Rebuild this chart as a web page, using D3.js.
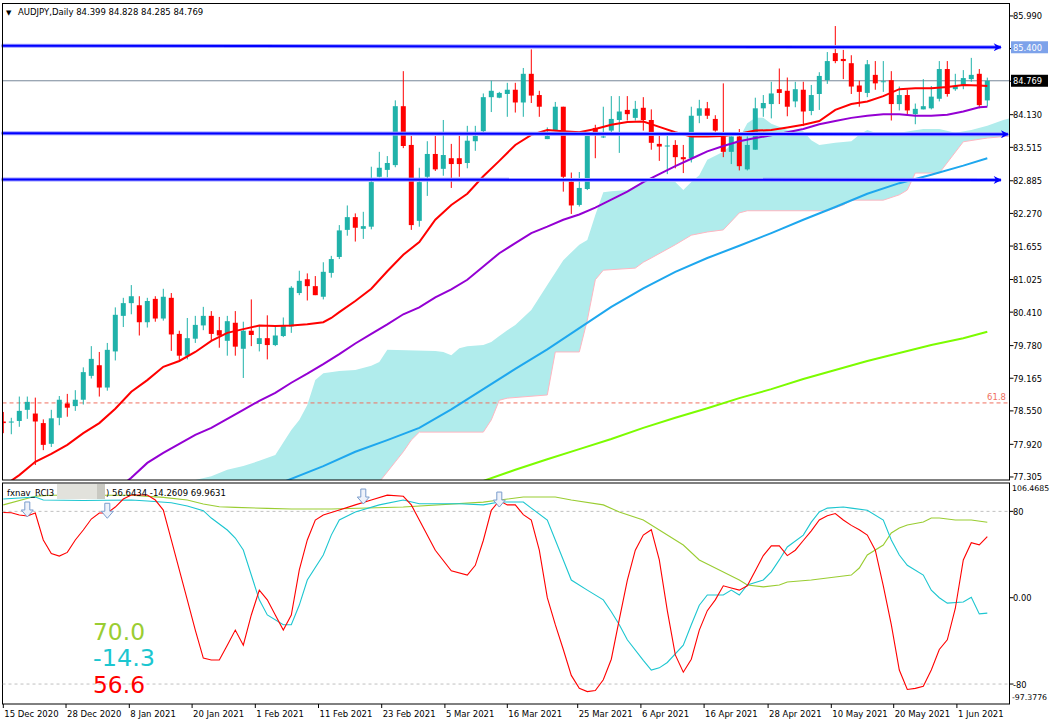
<!DOCTYPE html>
<html>
<head>
<meta charset="utf-8">
<script src="https://cdn.jsdelivr.net/npm/d3@7"></script>
<style>
  body { margin: 0; background: #fff; }
  svg text { font-family: "DejaVu Sans", sans-serif; }
</style>
</head>
<body>
<div id="graf"></div>
<script>
// OHLC, one value per daily bar (index 0 = 15 Dec 2020)
const opens = [78.35,78.33,78.36,78.57,78.50,78.32,77.93,78.42,78.69,78.64,78.76,79.21,79.41,78.99,79.67,80.34,80.58,80.54,80.22,80.66,
  80.29,80.68,80.00,79.59,79.91,80.16,80.34,80.07,79.87,80.21,79.72,80.06,79.81,79.92,79.79,79.96,80.14,80.77,81.03,80.90,
  80.70,81.15,81.45,81.96,82.20,81.98,82.02,82.96,83.09,83.18,84.29,83.56,82.13,82.96,83.39,83.11,83.31,83.31,83.22,83.63,
  83.82,84.46,84.45,84.52,84.60,84.36,84.90,84.50,83.67,83.83,84.28,82.87,82.43,82.73,83.88,83.71,83.83,84.03,84.22,84.07,
  84.26,84.03,83.58,83.53,83.56,83.33,83.31,84.11,84.25,84.05,83.72,83.43,83.72,83.10,83.47,84.25,84.33,84.61,84.58,84.38,
  84.60,84.20,84.52,84.78,85.29,85.18,85.10,84.68,84.54,84.88,84.75,84.78,84.33,84.50,84.14,84.23,84.25,84.43,84.99,84.61,
  84.67,84.80,84.90,84.399]
const highs = [78.53,78.42,78.82,78.82,78.80,78.39,78.57,78.83,78.87,78.94,79.37,79.77,79.66,79.83,80.50,80.68,80.92,80.71,80.68,80.71,
  80.85,80.77,80.06,80.30,80.34,80.51,80.43,80.32,80.34,80.43,80.23,80.65,80.17,80.35,80.14,80.31,80.90,81.19,81.14,81.09,
  81.35,81.47,82.05,82.42,82.27,82.30,83.15,83.43,83.35,84.40,84.95,83.73,83.13,83.63,83.73,84.03,83.58,83.73,83.92,83.92,
  84.53,84.77,84.56,84.73,84.73,85.01,85.36,84.58,83.89,84.37,84.28,83.04,83.05,83.73,83.94,84.28,84.48,84.48,84.48,84.39,
  84.46,84.23,83.73,83.73,83.65,83.56,84.28,84.41,84.37,84.12,84.72,83.72,83.86,83.72,84.45,84.50,84.75,85.00,84.83,84.75,
  84.75,84.69,84.93,85.31,85.80,85.35,85.25,84.77,85.16,85.14,85.14,84.95,84.66,84.60,84.34,84.80,84.67,85.14,85.14,84.90,
  84.97,85.20,84.99,84.828]
const lows = [78.13,78.11,78.25,78.40,77.53,77.81,77.87,78.28,78.44,78.55,78.67,79.16,78.82,78.93,79.50,80.13,80.37,79.97,80.12,80.23,
  80.25,79.68,79.51,79.52,79.83,80.07,79.87,79.74,79.59,79.59,79.17,79.77,79.67,79.52,79.77,79.94,80.02,80.73,80.63,80.73,
  80.65,81.06,81.41,81.85,81.74,81.79,81.97,82.95,82.95,83.14,83.50,81.96,82.02,82.60,83.07,82.98,82.75,82.96,83.12,83.45,
  83.80,84.18,84.44,84.09,84.17,84.09,84.35,84.09,83.67,83.82,82.68,82.26,82.40,82.71,83.31,83.69,83.75,83.41,84.02,84.02,
  83.83,83.47,83.26,83.01,83.12,83.03,83.23,83.97,84.05,83.81,83.33,83.20,83.08,83.08,83.47,84.09,84.06,84.33,84.10,84.27,
  83.92,84.12,84.22,84.71,85.10,84.80,84.52,84.28,84.46,84.60,84.56,84.02,84.21,84.14,83.95,84.23,84.23,84.38,84.47,84.58,
  84.61,84.75,84.25,84.285]
const closes = [78.32,78.35,78.55,78.72,78.35,77.91,78.41,78.76,78.61,78.76,79.28,79.53,78.99,79.70,80.36,80.58,80.71,80.22,80.62,80.29,
  80.70,79.99,79.59,79.92,80.17,80.34,80.00,79.97,80.24,79.76,80.06,79.98,79.92,79.79,79.97,80.16,80.87,81.00,80.90,80.73,
  81.17,81.41,81.95,82.20,82.00,82.03,82.86,83.13,83.22,84.29,83.54,82.05,82.86,83.39,83.10,83.37,83.20,83.20,83.64,83.73,
  84.46,84.58,84.54,84.60,84.36,84.90,84.49,84.28,83.73,84.28,82.96,82.42,82.75,83.73,83.80,83.72,84.05,84.19,84.14,84.24,
  84.03,83.60,83.53,83.55,83.33,83.29,84.11,84.25,84.11,83.83,83.43,83.72,83.16,83.56,84.25,84.35,84.53,84.54,84.28,84.61,
  84.19,84.50,84.86,85.14,85.14,85.14,84.66,84.56,85.08,84.72,84.76,84.33,84.50,84.21,84.24,84.29,84.47,84.99,84.52,84.67,
  84.82,84.88,84.31,84.769]

// moving averages: [bar index, price]
const maRed = [[0,77.13],[2,77.34],[4,77.59],[6,77.74],[8,77.91],[10,78.13],[12,78.32],[14,78.59],[16,78.91],[18,79.13],[20,79.38],
  [22,79.49],[24,79.66],[26,79.87],[28,80.02],[30,80.09],[32,80.16],[34,80.15],[36,80.16],[38,80.18],[40,80.22],[41,80.30],[42,80.41],
  [44,80.62],[46,80.85],[48,81.18],[50,81.49],[52,81.73],[54,82.15],[56,82.43],[58,82.64],[60,82.97],[62,83.26],[64,83.56],[66,83.75],
  [68,83.84],[70,83.82],[72,83.80],[74,83.86],[76,83.94],[78,83.99],[80,84.00],[82,83.90],[84,83.80],[86,83.72],[88,83.72],[90,83.73],
  [92,83.77],[94,83.83],[96,83.84],[98,83.89],[100,83.94],[102,84.01],[104,84.22],[106,84.33],[108,84.38],[110,84.48],[112,84.61],
  [114,84.63],[116,84.63],[118,84.65],[120,84.69],[122,84.68],[123,84.67]]
const maPurple = [[15,77.17],[16,77.29],[18,77.57],[20,77.76],[22,77.93],[24,78.10],[26,78.23],[28,78.40],[30,78.57],[32,78.74],
  [34,78.89],[36,79.08],[38,79.25],[40,79.43],[42,79.62],[44,79.82],[46,80.00],[48,80.18],[50,80.37],[52,80.50],[54,80.69],[56,80.84],
  [58,81.02],[60,81.27],[62,81.52],[64,81.71],[66,81.90],[68,82.02],[70,82.15],[72,82.25],[74,82.38],[76,82.53],[78,82.68],[80,82.86],
  [82,83.01],[84,83.16],[86,83.30],[88,83.44],[90,83.54],[92,83.63],[94,83.69],[96,83.74],[98,83.80],[100,83.86],[102,83.95],
  [104,84.01],[106,84.07],[108,84.11],[110,84.14],[112,84.14],[114,84.11],[116,84.11],[118,84.13],[120,84.19],[122,84.27],[123,84.28]]
const maBlue = [[35,77.21],[40,77.51],[44,77.78],[48,78.00],[52,78.23],[56,78.58],[60,78.96],[64,79.34],[68,79.71],[72,80.11],
  [76,80.51],[80,80.86],[84,81.17],[88,81.43],[92,81.66],[96,81.90],[100,82.15],[104,82.39],[108,82.64],[112,82.84],[116,83.00],
  [120,83.17],[123,83.31]]
const maGreen = [[60,77.23],[64,77.44],[68,77.64],[72,77.83],[76,78.02],[80,78.23],[84,78.42],[88,78.60],[92,78.79],[96,78.96],
  [100,79.15],[104,79.32],[108,79.49],[112,79.64],[116,79.79],[120,79.92],[123,80.04]]

// ichimoku cloud edges: [bar index, price]
const cloudTop = [[24,77.25],[26,77.32],[28,77.44],[30,77.51],[32,77.61],[34,77.72],[36,78.19],[37,78.38],[38,78.66],[39,79.13],
  [40,79.26],[42,79.30],[44,79.32],[46,79.40],[47,79.47],[48,79.70],[54,79.68],[55,79.66],[56,79.60],[57,79.73],[58,79.77],[60,79.79],
  [61,79.85],[62,79.96],[63,80.07],[64,80.17],[66,80.45],[68,80.92],[70,81.39],[72,81.68],[73,81.77],[74,82.24],[75,82.67],[76,82.69],
  [78,82.71],[80,82.86],[84,82.86],[85,82.71],[86,82.86],[87,82.99],[88,83.28],[90,83.43],[92,83.69],[93,83.97],[94,84.07],[95,84.07],
  [96,83.96],[98,83.84],[100,83.82],[101,83.65],[102,83.56],[104,83.60],[106,83.63],[107,83.75],[108,83.84],[109,83.79],[112,83.79],
  [115,83.86],[117,83.86],[119,83.79],[121,83.84],[123,83.92],[125,84.03],[126,84.07]]
const cloudBot = [[24,77.00],[46,77.00],[47,77.21],[48,77.40],[49,77.59],[50,77.78],[51,78.00],[52,78.15],[60,78.15],[61,78.38],
  [62,78.75],[63,78.79],[68,78.85],[69,79.66],[72,79.66],[73,80.26],[74,81.02],[75,81.20],[79,81.24],[80,81.35],[81,81.43],[84,81.68],
  [86,81.86],[88,81.92],[90,81.96],[92,82.28],[93,82.32],[103,82.32],[105,82.43],[106,82.52],[110,82.52],[112,82.62],[113,82.71],
  [114,83.03],[117,83.03],[120,83.62],[123,83.69],[126,83.73]]

// RCI3 lines: [bar index, value]
const rciRed = [[0,79],[1,78.7],[2,76.6],[3,75.7],[4,78.5],[5,53.5],[6,41],[7,38.6],[8,42],[9,53.5],[10,62.7],[11,72.9],[12,78.5],
  [13,78.5],[14,84],[15,91.4],[16,95.1],[17,95.1],[18,95.1],[19,90.5],[20,81.2],[21,53.5],[22,25.7],[23,-2],[24,-30],[25,-56],
  [26,-57.7],[27,-57.7],[28,-44],[29,-30],[30,-44],[31,-16],[32,7],[33,-2],[34,-16],[35,-30],[36,-16],[37,25.7],[38,53.5],[39,72],
  [40,76.6],[42,81.2],[44,86],[46,90.5],[48,95],[50,94],[51,86],[52,72],[54,44],[56,25],[58,21],[59,30],[60,53],[61,81],[62,90],
  [63,86],[64,86],[65,77],[66,72],[67,44],[68,0],[69,-25],[70,-48],[71,-72],[72,-84],[73,-87],[74,-86],[75,-76],[76,-57],[77,-20],
  [78,16],[79,44],[80,58],[81,63],[82,35],[83,-12],[84,-53],[85,-69],[86,-57],[87,-30],[88,-12],[89,-2],[90,11],[91,9],[92,7],
  [93,11],[94,25],[95,39],[96,48],[97,48],[98,39],[99,44],[100,53],[101,62],[102,72],[103,76],[104,78],[105,72],[106,67],[107,63],
  [108,58],[109,44],[110,11],[111,-25],[112,-67],[113,-85],[114,-84],[115,-82],[116,-67],[117,-48],[118,-39],[119,-10],[120,35],
  [121,51],[122,49],[123,56.64]]
const rciCyan = [[0,91.4],[4,93.3],[5,90.5],[10,90],[16,90.5],[18,89.6],[21,88],[23,85],[25,80.6],[26,73.8],[28,62.7],[29,55.3],
  [30,44.2],[31,21],[32,-2],[33,-16],[35,-25],[36,-25],[37,-6.8],[38,16.4],[40,39.6],[41,58],[42,72],[44,79.4],[47,86],[50,90.5],
  [52,87],[57,87],[60,86],[62,88.7],[65,88.7],[66,83],[68,72],[69,53.5],[70,35],[71,16.4],[73,7],[75,-2],[76,-13],[77,-25],[78,-39],
  [80,-58],[81,-67],[82,-65],[83,-60],[85,-44],[86,-25],[87,-7],[88,2.5],[90,2.5],[91,7],[92,2.5],[93,11.8],[95,16.4],[96,24],
  [97,35],[98,47],[100,58],[101,70],[102,79.4],[103,83],[105,84],[106,83],[108,81],[110,72],[111,53.5],[112,39.6],[113,30],[115,21],
  [116,7],[117,0],[118,-5],[120,-4],[121,0.4],[122,-15],[123,-14.26]]
const rciGreen = [[0,86],[4,94],[6,95],[16,95],[20,93],[23,90.5],[25,86.8],[27,84.3],[29,83.7],[33,82.8],[36,82.2],[41,82.2],[50,84],
  [60,88.6],[62,90.5],[65,93.3],[69,93.3],[71,90.5],[75,86],[77,79.4],[80,72],[82,62.7],[85,48.8],[87,35],[90,23.9],[92,16.4],
  [93,11.8],[95,10],[97,11.8],[98,14.6],[101,16.4],[103,18.3],[106,21],[107,27.5],[108,39.6],[110,48.8],[111,60],[112,64.6],
  [113,67.4],[115,70.2],[116,73.8],[117,73.8],[119,72],[121,72],[123,69.96]]
const rciArrows = [[3,74.8],[13,73.6],[45,86.8],[62,84]]

// horizontal / trend lines
const trendLines = [[[-0.2,85.43],[124.7,85.40]],[[-0.2,83.78],[125.6,83.76]],[[-0.2,82.91],[124.7,82.90]]]
const fibLevel = 78.70
const lastPrice = 84.769

// axis labels
const priceTicks = [85.990,85.375,84.760,84.130,83.515,82.885,82.270,81.655,81.025,80.410,79.780,79.165,78.550,77.920,77.305]
const rciTicks = [80, 0, -80]
const tickPos = [0,7.84,15.75,23.6,31.5,39.4,47.3,55.2,63,71.8,79.7,87.6,95.6,103.5,111.3,119.2]
const tickLabels = ['15 Dec 2020','28 Dec 2020','8 Jan 2021','20 Jan 2021','1 Feb 2021','11 Feb 2021','23 Feb 2021','5 Mar 2021',
  '16 Mar 2021','25 Mar 2021','6 Apr 2021','16 Apr 2021','28 Apr 2021','10 May 2021','20 May 2021','1 Jun 2021']

const ancho = 1050, alto = 725
const izq = 2.5, der = 1009.5, arriba = 3.5, abajo1 = 480, arriba2 = 483, abajo2 = 704

const svg = d3.select('#graf').append('svg')
  .attr('width', ancho).attr('height', alto)

const x = d3.scaleLinear().domain([0, 123]).range([3.3, 987.3])
const y = d3.scaleLinear().domain([77.248, 86.234]).range([abajo1, 3])
const yr = d3.scaleLinear().domain([-97.3776, 106.4685]).range([702.8, 482.8])

const defs = svg.append('defs')
defs.append('clipPath').attr('id', 'clipMain').append('rect')
  .attr('x', izq).attr('y', arriba).attr('width', der - izq).attr('height', abajo1 - arriba)
defs.append('clipPath').attr('id', 'clipRci').append('rect')
  .attr('x', izq).attr('y', arriba2).attr('width', der - izq).attr('height', abajo2 - arriba2)
defs.append('marker').attr('id', 'flecha').attr('viewBox', '0 0 10 10')
  .attr('refX', 9).attr('refY', 5).attr('markerWidth', 5).attr('markerHeight', 4)
  .attr('markerUnits', 'strokeWidth').attr('orient', 'auto')
  .append('path').attr('d', 'M0,0 L10,5 L0,10 L3,5 Z').attr('fill', '#0000ff')

const main = svg.append('g').attr('clip-path', 'url(#clipMain)')

// cloud
const cloudPts = cloudTop.concat(cloudBot.slice().reverse())
main.append('path')
  .attr('d', d3.line().x(d => x(d[0])).y(d => y(d[1]))(cloudPts) + 'Z')
  .attr('fill', '#b0ecec')
main.append('path')
  .attr('d', d3.line().x(d => x(d[0])).y(d => y(d[1]))(cloudBot))
  .attr('fill', 'none').attr('stroke', '#ffb6c1').attr('stroke-width', 1)

// fibo level
main.append('line')
  .attr('x1', izq).attr('x2', der).attr('y1', y(fibLevel)).attr('y2', y(fibLevel))
  .attr('stroke', '#f07060').attr('stroke-dasharray', '4,3')
svg.append('text').attr('x', 1006).attr('y', y(fibLevel) - 3)
  .attr('text-anchor', 'end').attr('font-size', 8.5).attr('fill', '#f07060').text('61.8')

// last price line
main.append('line')
  .attr('x1', izq).attr('x2', der).attr('y1', y(lastPrice)).attr('y2', y(lastPrice))
  .attr('stroke', '#778899')

// candles
const idx = d3.range(opens.length)
const velas = main.append('g')
velas.selectAll('line').data(idx).enter().append('line')
  .attr('x1', i => x(i)).attr('x2', i => x(i))
  .attr('y1', i => y(highs[i])).attr('y2', i => y(lows[i]))
  .attr('stroke', i => closes[i] >= opens[i] ? '#20b2aa' : '#ff0000')
velas.selectAll('rect').data(idx).enter().append('rect')
  .attr('x', i => x(i) - 2.5).attr('width', 5)
  .attr('y', i => y(Math.max(opens[i], closes[i])))
  .attr('height', i => Math.max(1, Math.abs(y(opens[i]) - y(closes[i]))))
  .attr('fill', i => closes[i] >= opens[i] ? '#20b2aa' : '#ff0000')

// moving averages
const lineaMA = d3.line().x(d => x(d[0])).y(d => y(d[1]))
const medias = [
  { datos: maGreen, color: '#7cfc00' },
  { datos: maBlue, color: '#1ea7ee' },
  { datos: maPurple, color: '#9400d3' },
  { datos: maRed, color: '#ff0000' },
]
medias.forEach(m => {
  main.append('path').attr('d', lineaMA(m.datos))
    .attr('fill', 'none').attr('stroke', m.color).attr('stroke-width', 2)
})

// blue trend lines
const lineaT = d3.line().x(d => x(d[0])).y(d => y(d[1]))
trendLines.forEach(t => {
  svg.append('path').attr('d', lineaT(t)).attr('stroke', '#9a9aff').attr('stroke-width', 4).attr('fill', 'none')
  svg.append('path').attr('d', lineaT(t)).attr('stroke', '#0000ff').attr('stroke-width', 2).attr('fill', 'none')
    .attr('marker-end', 'url(#flecha)')
})

// frames
svg.append('rect').attr('x', izq).attr('y', arriba).attr('width', der - izq).attr('height', abajo1 - arriba)
  .attr('fill', 'none').attr('stroke', '#000')
svg.append('rect').attr('x', izq).attr('y', arriba2).attr('width', der - izq).attr('height', abajo2 - arriba2)
  .attr('fill', 'none').attr('stroke', '#000')

// price axis
const ejeP = svg.append('g')
ejeP.selectAll('line').data(priceTicks).enter().append('line')
  .attr('x1', der).attr('x2', der + 4).attr('y1', d => y(d)).attr('y2', d => y(d)).attr('stroke', '#000')
ejeP.selectAll('text').data(priceTicks).enter().append('text')
  .attr('x', 1013).attr('y', d => y(d) + 3.5).attr('font-size', 8.3).attr('fill', '#000')
  .text(d => d.toFixed(3))

// price boxes
const cajas = [
  { v: trendLines[0][1][1], fondo: '#7da2ea', texto: '#fff', t: '85.400' },
  { v: lastPrice, fondo: '#000', texto: '#fff', t: lastPrice.toFixed(3) },
]
cajas.forEach(c => {
  svg.append('rect').attr('x', 1011).attr('y', y(c.v) - 6).attr('width', 37).attr('height', 12).attr('fill', c.fondo)
  svg.append('text').attr('x', 1013).attr('y', y(c.v) + 3.5).attr('font-size', 8.3).attr('fill', c.texto).text(c.t)
})

// header
svg.append('text').attr('x', 6).attr('y', 15).attr('font-size', 7).attr('fill', '#000').text('▼')
svg.append('text').attr('x', 18).attr('y', 15).attr('font-size', 8.5).attr('fill', '#000')
  .text('AUDJPY,Daily  84.399 84.828 84.285 84.769')

// RCI panel
const rci = svg.append('g').attr('clip-path', 'url(#clipRci)')
rci.selectAll('.nivel').data([80, -80]).enter().append('line')
  .attr('x1', izq).attr('x2', der).attr('y1', d => yr(d)).attr('y2', d => yr(d))
  .attr('stroke', '#c0c0c0').attr('stroke-dasharray', '3,3')
const lineaR = d3.line().x(d => x(d[0])).y(d => yr(d[1]))
const rciSeries = [
  { datos: rciGreen, color: '#9acd32' },
  { datos: rciCyan, color: '#1cc6d0' },
  { datos: rciRed, color: '#ff0000' },
]
rciSeries.forEach(s => {
  rci.append('path').attr('d', lineaR(s.datos)).attr('fill', 'none').attr('stroke', s.color).attr('stroke-width', 1.1)
})
rci.selectAll('.flecha').data(rciArrows).enter().append('path')
  .attr('d', d => {
    const cx = x(d[0]), ty = yr(d[1])
    return `M${cx - 2.5},${ty - 15} L${cx + 2.5},${ty - 15} L${cx + 2.5},${ty - 7} L${cx + 6},${ty - 7} L${cx},${ty} ` +
      `L${cx - 6},${ty - 7} L${cx - 2.5},${ty - 7} Z`
  })
  .attr('fill', '#eef2fa').attr('stroke', '#7a9ccc')

// RCI title
svg.append('text').attr('x', 7).attr('y', 496).attr('font-size', 8.5).attr('fill', '#000').text('fxnav_RCI3')
svg.append('rect').attr('x', 57).attr('y', 484).attr('width', 40).attr('height', 15).attr('fill', '#e2e2dc')
svg.append('rect').attr('x', 97).attr('y', 484).attr('width', 8).attr('height', 15).attr('fill', '#c9c9c2')
svg.append('text').attr('x', 106).attr('y', 496).attr('font-size', 8.5).attr('fill', '#000')
  .text(') 56.6434 -14.2609 69.9631')

// big readouts
const lecturas = [
  { t: '70.0', color: '#9acd32', yb: 639.5, w: 52 },
  { t: '-14.3', color: '#1cc6d0', yb: 666, w: 62 },
  { t: '56.6', color: '#ff0000', yb: 692.5, w: 52 },
]
lecturas.forEach(l => {
  svg.append('text').attr('x', 93).attr('y', l.yb).attr('font-size', 23.5)
    .attr('textLength', l.w).attr('lengthAdjust', 'spacingAndGlyphs')
    .attr('font-family', '"Liberation Sans", Arial, sans-serif').attr('fill', l.color).text(l.t)
})

// RCI axis
const ejeR = svg.append('g')
ejeR.selectAll('line').data(rciTicks).enter().append('line')
  .attr('x1', der).attr('x2', der + 4).attr('y1', d => yr(d)).attr('y2', d => yr(d)).attr('stroke', '#000')
ejeR.selectAll('text').data(rciTicks).enter().append('text')
  .attr('x', 1013).attr('y', d => yr(d) + 3.5).attr('font-size', 8.3).attr('fill', '#000')
  .text(d => d === 0 ? '0.00' : d)
svg.append('text').attr('x', 1012).attr('y', 491).attr('font-size', 7.8).text('106.4685')
svg.append('text').attr('x', 1012).attr('y', 700).attr('font-size', 7.8).text('-97.3776')

// time axis
const ejeT = svg.append('g')
ejeT.selectAll('line').data(tickPos).enter().append('line')
  .attr('x1', d => x(d)).attr('x2', d => x(d)).attr('y1', abajo2).attr('y2', abajo2 + 4).attr('stroke', '#000')
ejeT.selectAll('text').data(tickPos).enter().append('text')
  .attr('x', d => x(d) + 1).attr('y', 717).attr('font-size', 8.5).attr('fill', '#000')
  .text((d, i) => tickLabels[i])
</script>
</body>
</html>
